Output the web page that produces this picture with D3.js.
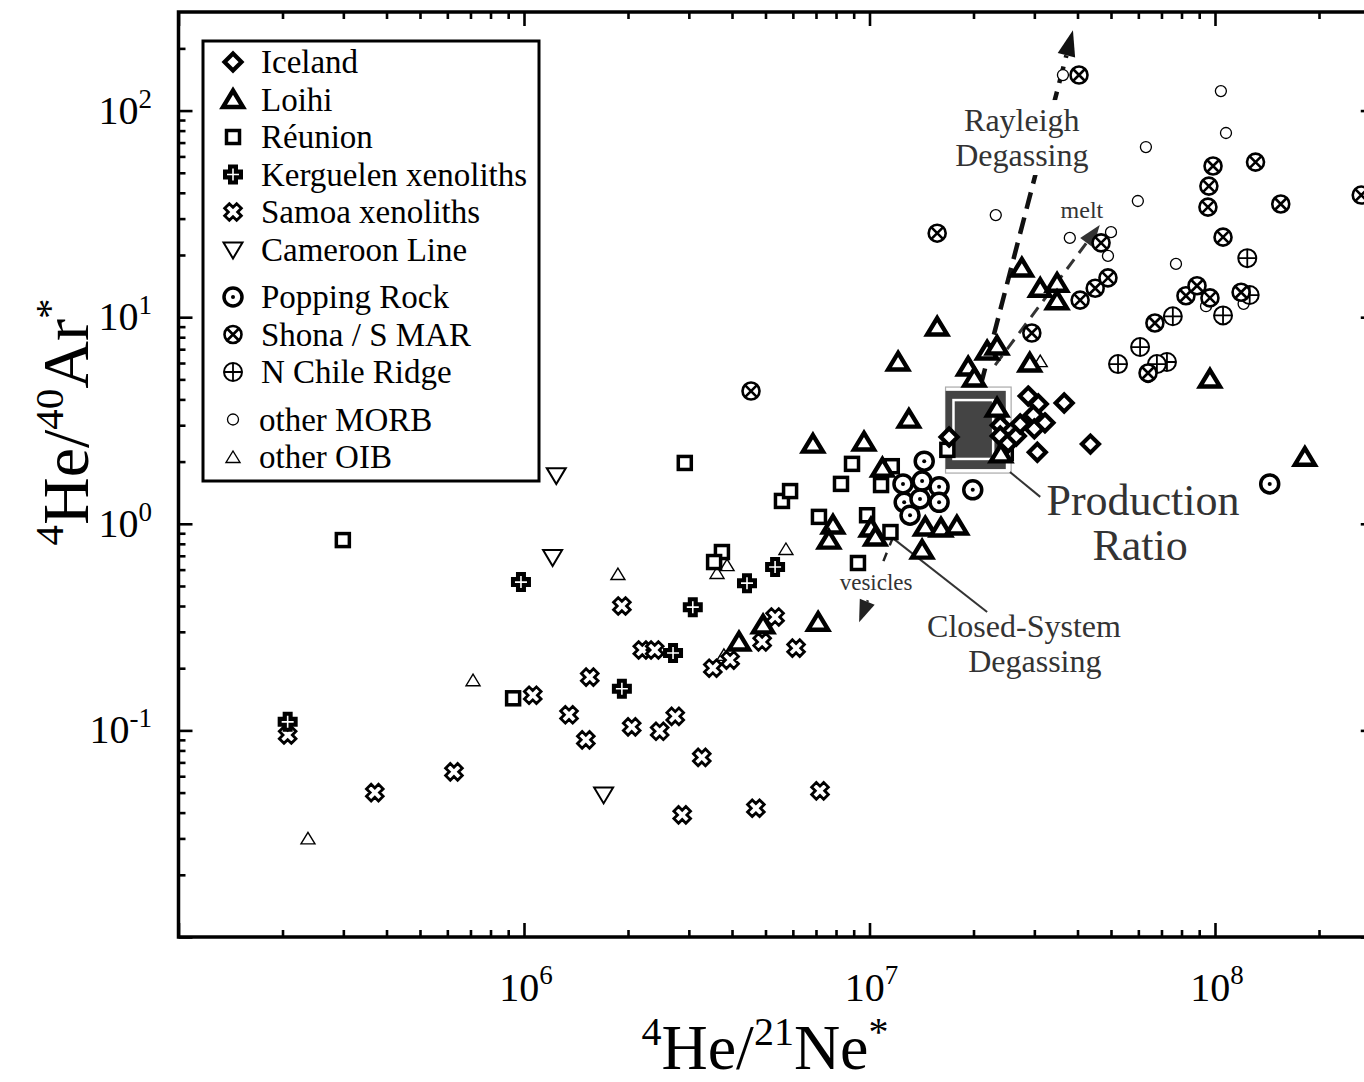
<!DOCTYPE html>
<html>
<head>
<meta charset="utf-8">
<script src="https://cdn.jsdelivr.net/npm/d3@7"></script>
<style>
  body { margin: 0; background: #fff; }
  svg { display: block; font-family: "Liberation Serif", "Times New Roman", serif; }
</style>
</head>
<body>
<div id="chart"></div>
<script>
// values: [4He/21Ne*, 4He/40Ar*]
const iceland = [[1.70e7,2.63],[2.39e7,3.0],[2.39e7,2.66],[2.52e7,2.46],[2.66e7,2.66],[2.73e7,3.04],
  [2.88e7,4.15],[3.08e7,3.80],[2.98e7,3.36],[3.0e7,2.88],[3.22e7,3.08],[3.66e7,3.84],[3.06e7,2.22],[4.36e7,2.43]];
const loihi = [[2.76e7,17.3],[3.12e7,13.8],[3.49e7,14.6],[3.49e7,12.0],[2.91e7,6.0],
  [1.57e7,8.96],[1.21e7,6.07],[2.19e7,6.86],[2.34e7,7.25],[1.93e7,5.74],[2.01e7,5.08],
  [1.30e7,3.21],[2.34e7,3.63],[2.40e7,2.18],[6.86e6,2.43],[9.64e6,2.49],[1.09e7,1.86],
  [7.84e6,0.986],[7.63e6,0.834],[1.01e7,0.954],[1.04e7,0.863],[1.45e7,0.965],[1.61e7,0.954],
  [1.79e7,0.976],[1.42e7,0.746],[7.10e6,0.334],[4.92e6,0.324],[4.19e6,0.268],[9.67e7,5.02],[1.82e8,2.10]];
const reunion = [[2.99e5,0.834],[9.3e5,0.143],[2.92e6,1.97],[5.58e6,1.29],[5.89e6,1.44],[3.74e6,0.73],
  [3.55e6,0.653],[8.9e6,1.95],[8.27e6,1.56],[7.14e6,1.08],[9.84e6,1.10],[9.26e6,0.646],[1.08e7,1.54],
  [1.16e7,1.90],[1.15e7,0.912],[1.68e7,2.28],[2.48e7,2.20]];
const kerguelen = [[2.07e5,0.110],[9.8e5,0.522],[3.08e6,0.395],[4.42e6,0.516],[5.33e6,0.618],[2.70e6,0.237],[1.92e6,0.159]];
const samoa = [[2.07e5,0.095],[3.70e5,0.050],[6.27e5,0.063],[1.06e6,0.148],[1.35e6,0.119],[1.51e6,0.090],
  [1.55e6,0.181],[1.92e6,0.40],[2.20e6,0.245],[2.39e6,0.245],[2.05e6,0.104],[2.47e6,0.099],[2.74e6,0.117],
  [3.27e6,0.074],[2.87e6,0.039],[4.69e6,0.042],[7.19e6,0.051],[5.33e6,0.354],[4.89e6,0.268],[3.95e6,0.219],
  [3.52e6,0.20],[6.13e6,0.25]];
const cameroon = [[1.24e6,1.72],[1.21e6,0.69],[1.70e6,0.049]];
const poppingRock = [[1.44e7,2.01],[1.25e7,1.56],[1.42e7,1.61],[1.59e7,1.51],[1.26e7,1.27],[1.40e7,1.32],
  [1.59e7,1.27],[1.31e7,1.10],[1.99e7,1.46],[1.44e8,1.56]];
const shona = [[4.04e7,148.6],[1.57e7,25.5],[4.54e6,4.39],[2.95e7,8.38],[4.68e7,22.9],[4.07e7,12.1],[4.50e7,13.8],
  [4.90e7,15.5],[9.87e7,53.9],[9.6e7,43.1],[9.54e7,34.1],[1.055e8,24.4],[1.31e8,56.3],[1.55e8,35.3],[2.65e8,39.0],
  [8.24e7,12.7],[8.87e7,14.2],[9.67e7,12.4],[1.19e8,13.2],[6.70e7,9.37],[6.40e7,5.37]];
const nChile = [[1.24e8,19.3],[7.55e7,10.1],[1.055e8,10.2],[6.07e7,7.17],[5.24e7,5.93],[7.26e7,6.07],[6.79e7,5.93],[1.26e8,12.8]];
const otherMORB = [[3.63e7,148.6],[1.04e8,124.3],[1.076e8,77.9],[6.31e7,66.6],[5.98e7,36.5],[2.32e7,31.2],
  [3.80e7,24.2],[5.0e7,25.8],[4.90e7,19.8],[7.71e7,18.1],[9.42e7,11.3],[1.21e8,11.6],[6.40e7,5.13]];
const otherOIB = [[7.12e5,0.175],[2.37e5,0.030],[1.87e6,0.571],[3.62e6,0.578],[3.87e6,0.631],[5.73e6,0.755],[3.79e6,0.232],[3.12e7,6.13]];

// production ratio box (x range, y range)
const prodBox = [[1.66e7, 2.48e7], [1.84, 4.4]];
const prodInner = [[1.75e7, 2.28e7], [2.06, 3.97]];
const prodOuter = [[1.66e7, 2.57e7], [1.76, 4.59]];

const xTickExps = [6, 7, 8];
const yTickExps = [-1, 0, 1, 2];

const legendItems = [
  ["iceland", "Iceland"], ["loihi", "Loihi"], ["reunion", "Réunion"], ["kerguelen", "Kerguelen xenoliths"],
  ["samoa", "Samoa xenoliths"], ["cameroon", "Cameroon Line"], ["popping", "Popping Rock"],
  ["shona", "Shona / S MAR"], ["nchile", "N Chile Ridge"], ["morb", "other MORB"], ["oib", "other OIB"]
];

const W = 1364, H = 1082;
const svg = d3.select("#chart").append("svg").attr("width", W).attr("height", H);
svg.append("rect").attr("width", W).attr("height", H).attr("fill", "#fff");

const x = d3.scaleLog().domain([1e5, 2.9e8]).range([178.5, 178.5 + 345.5 * Math.log10(2900)]);
const y = d3.scaleLog().domain([0.01, 300]).range([937, 12]);

// ---- ticks (all four sides, pointing inward)
function minorTicks(lo, hi) {
  let out = [];
  for (let k = Math.floor(Math.log10(lo)); k <= Math.ceil(Math.log10(hi)); k++)
    for (let m = 2; m <= 9; m++) {
      let v = m * Math.pow(10, k);
      if (v > lo && v < hi) out.push(v);
    }
  return out;
}
const xMaj = [1e5, 1e6, 1e7, 1e8], yMaj = [0.01, 0.1, 1, 10, 100];
const xMin = minorTicks(1e5, 2.9e8), yMin = minorTicks(0.01, 300);

function addAxis(axis, tr) {
  svg.append("g").attr("transform", tr).call(axis)
    .call(g => g.select(".domain").remove())
    .call(g => g.selectAll("line").attr("stroke", "#000").attr("stroke-width", 2.6));
}
addAxis(d3.axisBottom(x).tickValues(xMaj).tickSize(-14).tickFormat(""), "translate(0,937)");
addAxis(d3.axisBottom(x).tickValues(xMin).tickSize(-7).tickFormat(""), "translate(0,937)");
addAxis(d3.axisTop(x).tickValues(xMaj).tickSize(-14).tickFormat(""), "translate(0,12)");
addAxis(d3.axisTop(x).tickValues(xMin).tickSize(-7).tickFormat(""), "translate(0,12)");
addAxis(d3.axisLeft(y).tickValues(yMaj).tickSize(-14).tickFormat(""), "translate(178.5,0)");
addAxis(d3.axisLeft(y).tickValues(yMin).tickSize(-7).tickFormat(""), "translate(178.5,0)");
addAxis(d3.axisRight(y).tickValues(yMaj).tickSize(-14).tickFormat(""), `translate(${x.range()[1]},0)`);
addAxis(d3.axisRight(y).tickValues(yMin).tickSize(-7).tickFormat(""), `translate(${x.range()[1]},0)`);

svg.append("rect")
  .attr("x", x.range()[0]).attr("y", y.range()[1])
  .attr("width", x.range()[1] - x.range()[0]).attr("height", y.range()[0] - y.range()[1])
  .attr("fill", "none").attr("stroke", "#000").attr("stroke-width", 3.5);

// tick labels
svg.append("g").selectAll("text").data(xTickExps).join("text")
  .attr("x", d => x(Math.pow(10, d)) + 2).attr("y", 1001)
  .attr("text-anchor", "middle").style("font-size", "40px")
  .each(function (d) {
    let t = d3.select(this);
    t.append("tspan").text("10");
    t.append("tspan").attr("dy", -17).style("font-size", "27px").text(d);
  });
svg.append("g").selectAll("text").data(yTickExps).join("text")
  .attr("x", 152).attr("y", d => y(Math.pow(10, d)) + 13)
  .attr("text-anchor", "end").style("font-size", "40px")
  .each(function (d) {
    let t = d3.select(this);
    t.append("tspan").text("10");
    t.append("tspan").attr("dy", -16).style("font-size", "27px").text(d);
  });

// axis titles
function supText(sel, parts, big, small) {
  let shift = 0;
  for (let [txt, sup] of parts) {
    let want = sup ? -Math.round(big * 0.38) : 0;
    sel.append("tspan").attr("dy", want - shift).style("font-size", (sup ? small : big) + "px").text(txt);
    shift = want;
  }
}
svg.append("text").attr("x", 765).attr("y", 1069).attr("text-anchor", "middle")
  .call(t => supText(t, [["4", 1], ["He/", 0], ["21", 1], ["Ne", 0], ["*", 1]], 64, 40));
svg.append("text").attr("transform", "translate(88,422) rotate(-90)").attr("text-anchor", "middle")
  .call(t => supText(t, [["4", 1], ["He/", 0], ["40", 1], ["Ar", 0], ["*", 1]], 66, 41));

// ---- production ratio box
const rectOf = b => ({ x: x(b[0][0]), y: y(b[1][1]), w: x(b[0][1]) - x(b[0][0]), h: y(b[1][0]) - y(b[1][1]) });
let ro = rectOf(prodOuter), rb = rectOf(prodBox), ri = rectOf(prodInner);
svg.append("rect").attr("x", ro.x).attr("y", ro.y).attr("width", ro.w).attr("height", ro.h)
  .attr("fill", "none").attr("stroke", "#aaa").attr("stroke-width", 1.2);
svg.append("rect").attr("x", rb.x).attr("y", rb.y).attr("width", rb.w).attr("height", rb.h).attr("fill", "#444");
svg.append("rect").attr("x", ri.x).attr("y", ri.y).attr("width", ri.w).attr("height", ri.h)
  .attr("fill", "#444").attr("stroke", "#fff").attr("stroke-width", 2.5);

// ---- annotation lines and arrows
function arrow(from, to, opt) {
  let p0 = [x(from[0]), y(from[1])], p1 = [x(to[0]), y(to[1])];
  let dx = p1[0] - p0[0], dy = p1[1] - p0[1], L = Math.hypot(dx, dy);
  let ux = dx / L, uy = dy / L, nx = -uy, ny = ux;
  let bx = p1[0] - ux * opt.len, by = p1[1] - uy * opt.len;
  svg.append("line").attr("x1", p0[0]).attr("y1", p0[1]).attr("x2", bx).attr("y2", by)
    .attr("stroke", opt.color).attr("stroke-width", opt.width).attr("stroke-dasharray", opt.dash);
  svg.append("path")
    .attr("d", `M${p1[0]},${p1[1]}L${bx + nx * opt.hw},${by + ny * opt.hw}L${bx - nx * opt.hw},${by - ny * opt.hw}Z`)
    .attr("fill", opt.color);
}
function leader(from, to) {
  svg.append("line").attr("x1", x(from[0])).attr("y1", y(from[1])).attr("x2", x(to[0])).attr("y2", y(to[1]))
    .attr("stroke", "#333").attr("stroke-width", 2);
}
arrow([2.1e7, 4.7], [3.88e7, 245], { len: 26, hw: 9, color: "#111", width: 4.5, dash: "17,9" });
arrow([2.31e7, 5.86], [4.64e7, 27.9], { len: 22, hw: 8, color: "#333", width: 3, dash: "12,8" });
arrow([1.17e7, 0.863], [9.33e6, 0.334], { len: 22, hw: 8, color: "#222", width: 2.5, dash: "9,8" });
leader([1.17e7, 0.85], [2.19e7, 0.374]);
leader([2.55e7, 1.78], [3.12e7, 1.35]);

function label(lines, size, masked) {
  let g = svg.append("g");
  lines.forEach(([txt, vx, vy]) => g.append("text")
    .attr("x", x(vx)).attr("y", y(vy)).attr("text-anchor", "middle")
    .attr("fill", "#333").style("font-size", size + "px").text(txt));
  if (masked) {
    let bb = g.node().getBBox();
    g.insert("rect", "text").attr("x", bb.x - 2).attr("y", bb.y - 2)
      .attr("width", bb.width + 4).attr("height", bb.height + 4).attr("fill", "#fff");
  }
}
label([["Rayleigh", 2.76e7, 79.6], ["Degassing", 2.76e7, 53.9]], 32, true);
label([["melt", 4.12e7, 30.2]], 24, false);
label([["vesicles", 1.045e7, 0.478]], 23, true);
label([["Closed-System", 2.80e7, 0.283], ["Degassing", 3.01e7, 0.1916]], 32, false);
label([["Production", 6.19e7, 1.10], ["Ratio", 6.07e7, 0.668]], 44, false);

// ---- symbols
function plus(w, L) {
  return `M${-w},${-L}H${w}V${-w}H${L}V${w}H${w}V${L}H${-w}V${w}H${-L}V${-w}H${-w}Z`;
}
function drawSymbol(g, type) {
  const k = "#000";
  switch (type) {
    case "iceland":
      g.append("path").attr("d", "M0,-8.5L8.5,0L0,8.5L-8.5,0Z").attr("fill", "#fff").attr("stroke", k).attr("stroke-width", 4.2); break;
    case "loihi":
      g.append("path").attr("d", "M0,-9L10,7.5L-10,7.5Z").attr("fill", "#fff").attr("stroke", k)
        .attr("stroke-width", 4.4).attr("stroke-linejoin", "miter"); break;
    case "reunion":
      g.append("rect").attr("x", -6.5).attr("y", -6.5).attr("width", 13).attr("height", 13)
        .attr("fill", "#fff").attr("stroke", k).attr("stroke-width", 3.5); break;
    case "kerguelen":
      g.append("path").attr("d", plus(5, 10)).attr("fill", k);
      g.append("path").attr("d", "M-6,0H6M0,-6V6").attr("stroke", "#fff").attr("stroke-width", 1.6); break;
    case "samoa":
      g.append("path").attr("d", plus(3.3, 8.5)).attr("transform", "rotate(45)")
        .attr("fill", "#fff").attr("stroke", k).attr("stroke-width", 2.8); break;
    case "cameroon":
      g.append("path").attr("d", "M-9.5,-7L9.5,-7L0,9Z").attr("fill", "#fff").attr("stroke", k).attr("stroke-width", 2); break;
    case "popping":
      g.append("circle").attr("r", 9).attr("fill", "#fff").attr("stroke", k).attr("stroke-width", 3.5);
      g.append("circle").attr("r", 2).attr("fill", k); break;
    case "shona":
      g.append("circle").attr("r", 8.5).attr("fill", "#fff").attr("stroke", k).attr("stroke-width", 2.6);
      g.append("path").attr("d", "M-6,-6L6,6M-6,6L6,-6").attr("stroke", k).attr("stroke-width", 2.6); break;
    case "nchile":
      g.append("circle").attr("r", 9).attr("fill", "#fff").attr("stroke", k).attr("stroke-width", 2);
      g.append("path").attr("d", "M-9,0H9M0,-9V9").attr("stroke", k).attr("stroke-width", 1.8); break;
    case "morb":
      g.append("circle").attr("r", 5.5).attr("fill", "#fff").attr("stroke", k).attr("stroke-width", 1.3); break;
    case "oib":
      g.append("path").attr("d", "M0,-6L7,5.5L-7,5.5Z").attr("fill", "#fff").attr("stroke", k).attr("stroke-width", 1.4); break;
  }
}

const layers = [
  [otherMORB, "morb"], [otherOIB, "oib"], [cameroon, "cameroon"], [samoa, "samoa"], [kerguelen, "kerguelen"],
  [reunion, "reunion"], [loihi, "loihi"], [iceland, "iceland"], [poppingRock, "popping"],
  [nChile, "nchile"], [shona, "shona"]
];
for (let [arr, type] of layers) {
  svg.append("g").selectAll("g").data(arr).join("g")
    .attr("transform", d => `translate(${x(d[0])},${y(d[1])})`)
    .each(function () { drawSymbol(d3.select(this), type); });
}

// ---- legend
svg.append("rect").attr("x", 203).attr("y", 41).attr("width", 336).attr("height", 440)
  .attr("fill", "#fff").attr("stroke", "#000").attr("stroke-width", 3);
legendItems.forEach(([type, name], i) => {
  let cy = 62 + 37.5 * i + (i >= 6 ? 10 : 0) + (i >= 9 ? 10 : 0);
  let g = svg.append("g").attr("transform", `translate(233,${cy})`);
  drawSymbol(g, type);
  svg.append("text").attr("x", i >= 9 ? 259 : 261).attr("y", cy + 11)
    .style("font-size", "33px").attr("fill", "#000").text(name);
});
</script>
</body>
</html>
